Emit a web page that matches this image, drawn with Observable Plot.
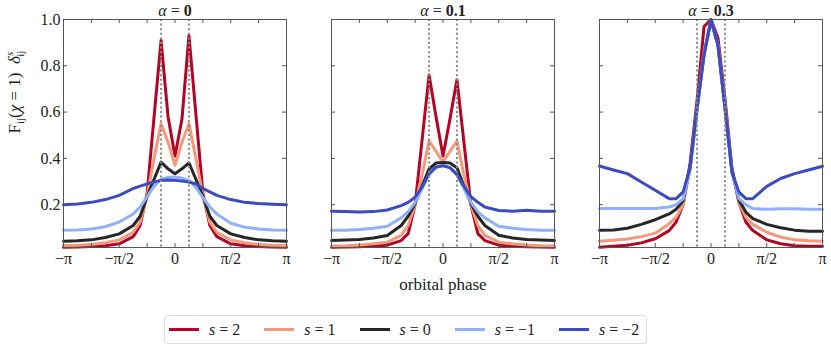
<!DOCTYPE html>
<html>
<head>
<meta charset="utf-8">
<script src="https://cdn.jsdelivr.net/npm/d3@7"></script>
<script src="https://cdn.jsdelivr.net/npm/@observablehq/plot@0.6"></script>
<style>
  body { margin: 0; background: #fff; font-family: "Liberation Serif", serif; }
  #wrap { position: relative; width: 831px; height: 346px; }
  #chart svg, #chart svg text { font-family: "Liberation Serif", serif; }
  #legend { position: absolute; left: 164px; top: 315px; width: 481px; height: 27px;
    border: 1px solid #dcdcdc; border-radius: 4px; display: flex; align-items: center;
    font-family: "Liberation Serif", serif; font-size: 16px; color: #222; }
  .item { display: flex; align-items: center; }
  .sw { width: 30px; height: 3px; margin-right: 10px; }
  .lab { white-space: nowrap; }
</style>
</head>
<body>
<div id="wrap"><div id="chart"></div><div id="legend"></div></div>
<script>
// phase grid, in units of pi
const phaseOverPi = [-1, -0.875, -0.75, -0.625, -0.5, -0.375, -0.3125, -0.25, -0.1875, -0.125, -0.0625, 0,
  0.0625, 0.125, 0.1875, 0.25, 0.3125, 0.375, 0.5, 0.625, 0.75, 0.875, 1];
const panels = ["0", "0.1", "0.3"];
const spins = [2, 1, 0, -1, -2];
const spinColors = ["#b40426", "#f4997b", "#262626", "#8fb1fc", "#3b4cc0"];

// alpha = 0
const a0_s2  = [0.016, 0.017, 0.019, 0.023, 0.031, 0.062, 0.11, 0.25, 0.58, 0.91, 0.58, 0.41, 0.57, 0.93, 0.59, 0.25, 0.11, 0.062, 0.031, 0.023, 0.019, 0.017, 0.016];
const a0_s1  = [0.024, 0.025, 0.028, 0.036, 0.048, 0.081, 0.125, 0.24, 0.40, 0.55, 0.47, 0.37, 0.47, 0.55, 0.40, 0.24, 0.125, 0.081, 0.048, 0.036, 0.028, 0.025, 0.024];
const a0_s0  = [0.042, 0.044, 0.048, 0.058, 0.074, 0.11, 0.15, 0.235, 0.31, 0.384, 0.355, 0.334, 0.355, 0.381, 0.31, 0.235, 0.15, 0.11, 0.074, 0.058, 0.048, 0.044, 0.042];
const a0_sm1 = [0.089, 0.091, 0.095, 0.105, 0.125, 0.16, 0.19, 0.235, 0.28, 0.31, 0.318, 0.318, 0.315, 0.305, 0.275, 0.23, 0.19, 0.16, 0.12, 0.103, 0.095, 0.091, 0.089];
const a0_sm2 = [0.20, 0.203, 0.21, 0.222, 0.24, 0.27, 0.28, 0.29, 0.298, 0.305, 0.307, 0.305, 0.302, 0.298, 0.29, 0.27, 0.255, 0.24, 0.222, 0.21, 0.205, 0.202, 0.20];

// alpha = 0.1
const a1_s2  = [0.016, 0.017, 0.018, 0.021, 0.025, 0.045, 0.075, 0.20, 0.48, 0.76, 0.58, 0.41, 0.57, 0.74, 0.47, 0.20, 0.075, 0.045, 0.025, 0.021, 0.018, 0.017, 0.016];
const a1_s1  = [0.022, 0.023, 0.026, 0.031, 0.038, 0.067, 0.11, 0.20, 0.33, 0.475, 0.43, 0.385, 0.43, 0.475, 0.33, 0.20, 0.11, 0.067, 0.038, 0.031, 0.026, 0.023, 0.022];
const a1_s0  = [0.045, 0.047, 0.05, 0.056, 0.067, 0.11, 0.15, 0.205, 0.28, 0.355, 0.38, 0.382, 0.38, 0.36, 0.28, 0.205, 0.15, 0.11, 0.068, 0.056, 0.05, 0.047, 0.045];
const a1_sm1 = [0.089, 0.09, 0.093, 0.098, 0.107, 0.143, 0.17, 0.21, 0.27, 0.33, 0.36, 0.37, 0.36, 0.33, 0.27, 0.21, 0.17, 0.143, 0.107, 0.098, 0.093, 0.09, 0.089];
const a1_sm2 = [0.172, 0.170, 0.168, 0.170, 0.177, 0.196, 0.21, 0.232, 0.276, 0.334, 0.363, 0.368, 0.36, 0.33, 0.28, 0.235, 0.21, 0.19, 0.175, 0.172, 0.176, 0.172, 0.172];

// alpha = 0.3
const a3_s2  = [0.016, 0.02, 0.025, 0.035, 0.053, 0.088, 0.125, 0.20, 0.38, 0.65, 0.97, 1.0, 0.92, 0.66, 0.36, 0.21, 0.125, 0.088, 0.048, 0.031, 0.023, 0.02, 0.02];
const a3_s1  = [0.042, 0.046, 0.052, 0.062, 0.077, 0.118, 0.146, 0.20, 0.36, 0.62, 0.86, 0.995, 0.89, 0.63, 0.35, 0.21, 0.146, 0.115, 0.081, 0.06, 0.048, 0.044, 0.042];
const a3_s0  = [0.089, 0.091, 0.098, 0.115, 0.135, 0.16, 0.18, 0.217, 0.36, 0.62, 0.85, 0.995, 0.89, 0.62, 0.35, 0.22, 0.168, 0.14, 0.115, 0.1, 0.09, 0.085, 0.085];
const a3_sm1 = [0.183, 0.183, 0.183, 0.183, 0.183, 0.19, 0.20, 0.225, 0.35, 0.61, 0.85, 1.0, 0.89, 0.62, 0.34, 0.226, 0.20, 0.183, 0.18, 0.182, 0.182, 0.18, 0.18];
const a3_sm2 = [0.367, 0.35, 0.334, 0.298, 0.262, 0.226, 0.226, 0.255, 0.36, 0.615, 0.846, 1.0, 0.89, 0.62, 0.34, 0.255, 0.226, 0.226, 0.279, 0.313, 0.334, 0.35, 0.366];

// tick labels
const xTickPi = [-1, -0.5, 0, 0.5, 1];
const xTickLabels = ["\u2212\u03c0", "\u2212\u03c0/2", "0", "\u03c0/2", "\u03c0"];
const xMinorPi = [-1, -0.75, -0.5, -0.25, 0, 0.25, 0.5, 0.75, 1];
const yTicks = [0.2, 0.4, 0.6, 0.8, 1.0];
const yTickLabels = ["0.2", "0.4", "0.6", "0.8", "1.0"];
const markerPi = [-0.125, 0.125];

const seriesByPanel = {
  "0":   [a0_s2, a0_s1, a0_s0, a0_sm1, a0_sm2],
  "0.1": [a1_s2, a1_s1, a1_s0, a1_sm1, a1_sm2],
  "0.3": [a3_s2, a3_s1, a3_s0, a3_sm1, a3_sm2]
};
const rows = [];
for (const p of panels) {
  seriesByPanel[p].forEach((vals, si) => {
    vals.forEach((v, i) => rows.push({alpha: p, s: spins[si], phase: phaseOverPi[i] * Math.PI, value: v}));
  });
}
const PI = Math.PI;
const xTicks = xTickPi.map(d => d * PI);
const xMinor = xMinorPi.map(d => d * PI);
const markers = markerPi.map(d => d * PI);

const W = 831, H = 308, mT = 19, mB = 61, mL = 63, mR = 9;
const plotH = H - mT - mB;
const bw = 223;
const tick = 4;
const axisColor = "#555";
const FONT = "Liberation Serif, serif";
const YLABEL = "__YLABEL__";

const chart = Plot.plot({
  width: W, height: H,
  marginTop: mT, marginBottom: mB, marginLeft: mL, marginRight: mR,
  style: {fontFamily: FONT, fontSize: "16px", color: "#222", background: "white"},
  fx: {domain: panels, paddingInner: 0.168, paddingOuter: 0},
  x: {domain: [-PI, PI]},
  y: {domain: [0.015, 1.0]},
  color: {type: "ordinal", domain: spins, range: spinColors},
  marks: [
    Plot.line(rows, {fx: "alpha", x: "phase", y: "value", z: "s", stroke: "s", strokeWidth: 3, strokeLinejoin: "round"}),
    Plot.ruleX(markers, {stroke: "#888", strokeWidth: 2, strokeDasharray: "2,2.6"}),
    Plot.frame({stroke: axisColor, strokeWidth: 1}),
    Plot.ruleX(xMinor, {stroke: axisColor, insetTop: plotH - tick}),
    Plot.ruleX(xMinor, {stroke: axisColor, insetBottom: plotH - tick}),
    Plot.ruleY(yTicks, {stroke: axisColor, insetRight: bw - tick}),
    Plot.ruleY(yTicks, {stroke: axisColor, insetLeft: bw - tick}),
    Plot.axisX(xTicks, {anchor: "bottom", tickSize: 0, tickPadding: 5, label: null,
      tickFormat: (d, i) => xTickLabels[i], fontSize: 16, fontFamily: FONT}),
    Plot.axisY(yTicks, {anchor: "left", tickSize: 0, tickPadding: 3, label: null,
      tickFormat: (d, i) => yTickLabels[i], fontSize: 16, fontFamily: FONT}),
    Plot.axisFx({anchor: "top", tickSize: 0, tickPadding: 4, label: null,
      tickFormat: a => `\u03b1 = ${a}`, fontSize: 16, fontFamily: FONT}),
    Plot.text([{alpha: "0.1"}], {fx: "alpha", frameAnchor: "bottom", dy: 42,
      text: () => "orbital phase", fontSize: 17, fill: "#222", fontFamily: FONT}),
    Plot.text([{alpha: "0"}], {fx: "alpha", frameAnchor: "left", dx: -49, rotate: -90,
      text: () => YLABEL, fontSize: 17, fill: "#222", fontFamily: FONT})
  ]
});
document.getElementById("chart").appendChild(chart);

// rich text for panel headers
d3.select(chart).selectAll('g[aria-label="fx-axis tick label"] text').each(function() {
  const t = this.textContent;
  const num = t.split("= ")[1];
  const sel = d3.select(this);
  sel.text(null);
  sel.append("tspan").attr("font-style", "italic").text("\u03b1");
  sel.append("tspan").text(" = ");
  sel.append("tspan").attr("font-weight", "bold").text(num);
});
// rich text for y label
d3.select(chart).selectAll("text").filter(function() { return this.textContent === YLABEL; }).each(function() {
  const sel = d3.select(this);
  sel.text(null);
  sel.append("tspan").text("F");
  sel.append("tspan").attr("font-size", 11).attr("dy", 4).text("ij");
  sel.append("tspan").attr("dy", -4).text("(");
  sel.append("tspan").attr("font-style", "italic").text("\u03c7");
  sel.append("tspan").text(" = 1)  ");
  sel.append("tspan").attr("font-style", "italic").text("\u03b4");
  sel.append("tspan").attr("font-size", 11).attr("font-style", "italic").attr("dy", -7).text("s");
  sel.append("tspan").attr("font-size", 11).attr("dx", -5).attr("dy", 11).text("ij");
});

// legend
const legend = d3.select("#legend");
spins.forEach((s, i) => {
  const it = legend.append("div").attr("class", "item")
    .style("margin-left", i === 0 ? "4px" : "24px");
  it.append("div").attr("class", "sw").style("background", spinColors[i]);
  const lab = it.append("span").attr("class", "lab");
  lab.append("i").text("s");
  lab.append("span").text(" = " + (s < 0 ? "\u2212" + Math.abs(s) : s));
});
</script>
</body>
</html>
